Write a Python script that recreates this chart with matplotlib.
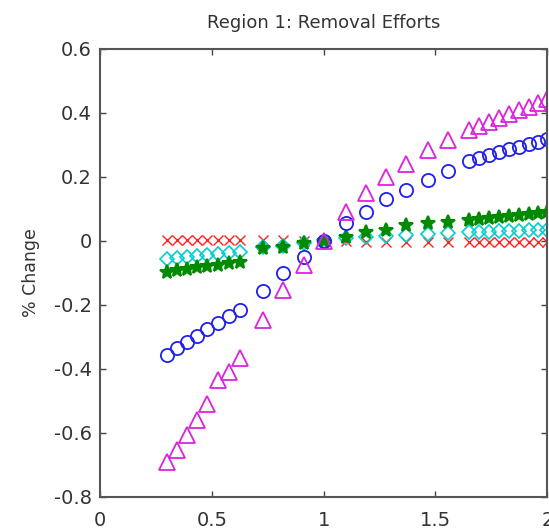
import matplotlib
matplotlib.use("Agg")
import matplotlib.pyplot as plt

plt.rcParams['font.family'] = ['DejaVu Sans']

# x positions (parameter multiplier)
x = [0.3, 0.345, 0.39, 0.435, 0.48, 0.53, 0.575, 0.625,
     0.73, 0.82, 0.91, 1.0,
     1.1, 1.19, 1.28, 1.37, 1.465, 1.555,
     1.65, 1.695, 1.74, 1.785, 1.83, 1.875, 1.92, 1.96, 2.0]

red_x = [0.003, 0.003, 0.003, 0.003, 0.003, 0.003, 0.003, 0.003,
         0.003, 0.002, 0.001, 0.0,
         -0.001, -0.002, -0.002, -0.003, -0.003, -0.003,
         -0.004, -0.004, -0.004, -0.004, -0.004, -0.004, -0.004, -0.004, -0.004]

cyan_d = [-0.055, -0.052, -0.05, -0.047, -0.044, -0.041, -0.038, -0.035,
          -0.02, -0.015, -0.005, 0.0,
          0.008, 0.012, 0.016, 0.02, 0.022, 0.024,
          0.027, 0.028, 0.029, 0.03, 0.031, 0.032, 0.033, 0.034, 0.035]

green_s = [-0.097, -0.092, -0.088, -0.083, -0.079, -0.074, -0.07, -0.065,
           -0.022, -0.02, -0.005, 0.0,
           0.013, 0.028, 0.034, 0.05, 0.056, 0.06,
           0.066, 0.069, 0.072, 0.075, 0.078, 0.081, 0.084, 0.087, 0.09]

blue_o = [-0.356, -0.336, -0.316, -0.296, -0.276, -0.256, -0.236, -0.216,
          -0.158, -0.1, -0.05, 0.0,
          0.056, 0.09, 0.13, 0.16, 0.19, 0.218,
          0.25, 0.26, 0.268, 0.277, 0.286, 0.294, 0.302, 0.31, 0.32]

mag_t = [-0.69, -0.653, -0.606, -0.56, -0.51, -0.434, -0.41, -0.366,
         -0.247, -0.153, -0.075, 0.0,
         0.09, 0.15, 0.2, 0.24, 0.284, 0.316,
         0.347, 0.36, 0.372, 0.384, 0.396, 0.408, 0.42, 0.432, 0.445]

title = "Region 1: Removal Efforts"
ylabel = "% Change"
xticks = [0, 0.5, 1, 1.5, 2]
xticklabels = ["0", "0.5", "1", "1.5", "2"]
yticks = [-0.8, -0.6, -0.4, -0.2, 0, 0.2, 0.4, 0.6]
yticklabels = ["-0.8", "-0.6", "-0.4", "-0.2", "0", "0.2", "0.4", "0.6"]

fig = plt.figure(figsize=(5.49, 5.32), dpi=100)
ax = fig.add_axes([0.182, 0.066, 0.815, 0.842])

ax.plot(x, red_x, linestyle='none', marker='x', color='#ff2020', ms=7, mew=1.0)
ax.plot(x, cyan_d, linestyle='none', marker='D', mfc='none', mec='#00d0d0', ms=7.5, mew=1.2)
ax.plot(x, green_s, linestyle='none', marker='*', color='#008a00', ms=10, mew=1.5)
ax.plot(x, blue_o, linestyle='none', marker='o', mfc='none', mec='#2020ee', ms=9.5, mew=1.3)
ax.plot(x, mag_t, linestyle='none', marker='^', mfc='none', mec='#dd22dd', ms=11, mew=1.3)

ax.set_xlim(0, 2)
ax.set_ylim(-0.8, 0.6)
ax.set_xticks(xticks)
ax.set_xticklabels(xticklabels)
ax.set_yticks(yticks)
ax.set_yticklabels(yticklabels)
ax.tick_params(direction='in', top=True, right=True, length=4, width=1,
               labelsize=14, colors='#444444', labelcolor='#333333')
ax.tick_params(axis='x', pad=10)
ax.tick_params(axis='y', pad=6)
for s in ax.spines.values():
    s.set_color('#555555')
    s.set_linewidth(1.5)

ax.set_title(title, fontsize=13, color='#333333', pad=15)
ax.set_ylabel(ylabel, fontsize=12.5, color='#333333', labelpad=10)

fig.savefig("out.png", dpi=100)
